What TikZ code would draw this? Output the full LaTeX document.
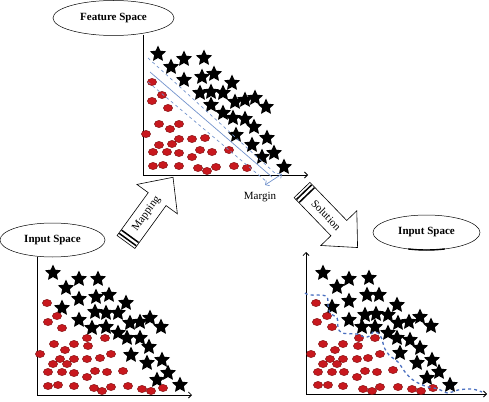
\documentclass[tikz,border=0pt]{standalone}
\usepackage{fontspec}
\setmainfont{Liberation Serif}
\usetikzlibrary{shapes.geometric,arrows.meta}

\definecolor{dotred}{HTML}{C8181E}
\definecolor{dotedge}{HTML}{7A0A0A}
\definecolor{marginblue}{HTML}{7393CC}
\definecolor{curveblue}{HTML}{4A6FC0}

\tikzset{
  starpt/.style={star, star points=5, star point ratio=2.1, fill=black, inner sep=0pt, minimum size=17pt},
  spacelabel/.style={ellipse, draw, line width=0.5pt, font=\fontsize{11}{13}\selectfont\bfseries, inner sep=0pt},
  axisline/.style={line width=0.8pt, -{Straight Barb[length=3pt,width=6pt]}},
  marginline/.style={marginblue, line width=0.7pt}
}

\def\reddot(#1){\draw[fill=dotred, draw=dotedge, line width=0.4pt] (#1) ellipse (4.6pt and 3.6pt);}
\def\blockarrow(#1)[#2]#3#4{%
  \begin{scope}[shift={(#1)}, rotate=#2]
    \draw[fill=white, line width=0.6pt] (0,-11) -- (53,-11) -- (53,-25) -- (80,0) -- (53,25) -- (53,11) -- (0,11) -- cycle;
    \draw[line width=1.5pt] (3,-10.5) -- (3,10.5);
    \draw[line width=1.5pt] (7,-10.5) -- (7,10.5);
    \node[rotate=#2, font=\fontsize{11}{13}\selectfont, inner sep=0pt] (#3) at (35,0) {#4};
  \end{scope}}

\begin{document}
\begin{tikzpicture}[x=1pt, y=-1pt]
		\useasboundingbox (0,0) rectangle (489,401);
		
		%%%%% FEATURE SPACE %%%%%
		\node[spacelabel, minimum width=121pt, minimum height=35pt] (feat) at (113.5,18) {Feature Space};
		\draw[axisline, -] (143,35) -- (143,175);
		\draw[axisline] (143,175) -- (308,175);
		
		\foreach \x/\y [count=\i] in {158/54,171/67,184/59,204/58,184/80,202/77,214/74,200/93,211/92,223/93,232/83,211/105,223/113,235/102,245/100,255/98,266/107,233/118,245/119,254/127,236/135,267/138,252/145,274/153,262/157,284/167}
			\node[starpt] (fs\i) at (\x,\y) {};
		\foreach \x/\y in {152/82,162/95,152/101,168/108,159/124,170/129,179/124,146/134,179/139,192/139,205/138,159/145,172/144,153/152,167/152,179/153,200/150,212/152,192/157,229/150,153/166,163/165,179/166,198/168,207/171,216/167,234/166,247/168}
			{\reddot(\x,\y)}
		
		\draw[marginline, dashed] (148,58) -- (277,175);
		\draw[marginline] (150,72) -- (272,177);
		\draw[marginline, dashed] (148,82) -- (267,182);
		\coordinate (mlow) at (265,185);
		\coordinate (mhigh) at (282,174);
		\draw[marginline, {Straight Barb[length=3pt,width=6pt]}-{Straight Barb[length=3pt,width=6pt]}] (mlow) -- (mhigh);
		\node[font=\fontsize{11}{13}\selectfont] (margin) at (260,197) {Margin};
		
		%%%%% ARROWS %%%%%
		\blockarrow(126,242)[54]{mapping}{Mapping}
		\blockarrow(302,190)[-46]{solution}{Solution}
		
		%%%%% INPUT SPACE (LEFT) %%%%%
		\node[spacelabel, minimum width=105pt, minimum height=34pt] (inleft) at (52.5,240) {Input Space};
		\draw[axisline, -] (37,257) -- (37,395);
		\draw[axisline] (37,395) -- (192,395);
		
		\foreach \x/\y [count=\i] in {53/273,66/288,79/279,98/279,79/299,96/297,109/295,62/308,79/320,95/312,106/313,118/313,126/303,92/328,106/327,118/333,130/323,140/322,150/318,161/327,127/338,140/338,131/355,149/347,147/363,162/360,168/373,157/380,180/385}
			\node[starpt] (ls\i) at (\x,\y) {};
		\foreach \x/\y in {47/303,57/316,48/322,62/328,87/338,105/338,54/344,74/344,88/346,65/350,40/354,60/359,74/359,87/359,100/358,111/354,53/364,67/364,48/372,62/372,74/373,87/377,95/371,107/372,123/371,48/386,58/385,74/386,94/388,102/391,111/387,128/386,142/389,151/391,163/388}
			{\reddot(\x,\y)}
		
		%%%%% INPUT SPACE (RIGHT) %%%%%
		\node[spacelabel, minimum width=107pt, minimum height=35pt] (inright) at (426.5,232.5) {Input Space};
		\draw[line width=1.4pt] ([shift={(250:53.5pt and 17.5pt)}]inright.center) arc (250:290:53.5pt and 17.5pt);
		\draw[axisline] (306,394) -- (306,252);
		\draw[axisline] (306,394) -- (487,394);
		
		\foreach \x/\y [count=\i] in {323/273,337/287,349/279,369/278,349/301,367/295,379/295,332/307,349/320,365/315,376/314,388/315,397/305,362/327,375/327,388/333,398/323,409/322,420/317,431/326,397/338,410/340,400/353,420/348,417/363,432/360,439/372,427/378,450/385}
			\node[starpt] (rs\i) at (\x,\y) {};
		\foreach \x/\y in {316/303,327/316,317/322,332/327,359/338,375/338,323/344,343/344,358/346,335/350,311/354,330/359,343/359,357/359,368/358,380/354,323/364,337/364,318/372,332/372,344/372,357/377,365/371,377/372,393/370,318/385,328/385,343/386,363/389,372/391,380/387,398/387,412/389,421/391,433/388}
			{\reddot(\x,\y)}
		
		\draw[curveblue, line width=1.3pt, dashed] plot[smooth, tension=0.6] coordinates {(305,293) (310,295) (326,296) (328,305) (330,313) (337,318) (338,327) (342,333) (357,334) (364,337) (370,336) (373,332) (378,333) (382,339) (384,347) (389,355) (398,362) (405,372) (413,380) (425,386) (438,389) (448,393) (458,390) (472,389) (482,392)};
		
	\end{tikzpicture}
\end{document}
